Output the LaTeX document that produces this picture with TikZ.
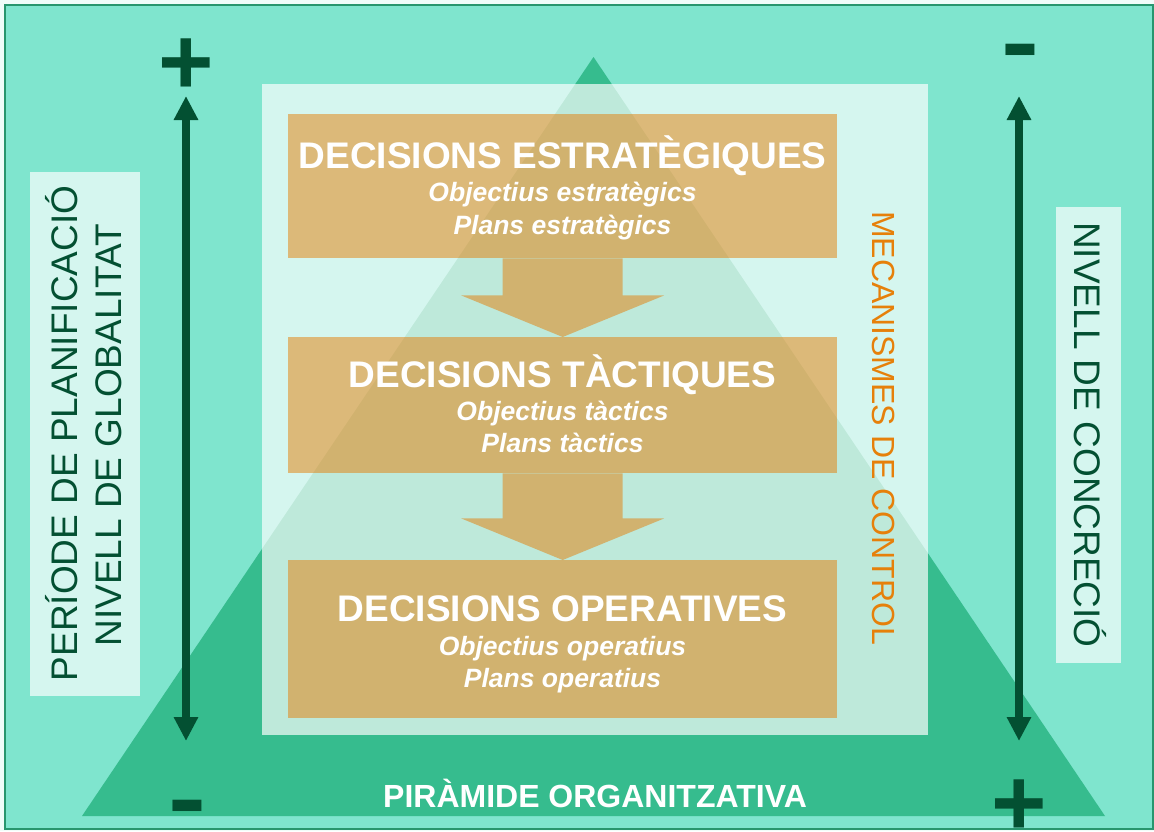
\documentclass[tikz,border=0pt]{standalone}
\usepackage{fontspec}
\setmainfont{Liberation Sans}
\usetikzlibrary{arrows.meta,calc}
\definecolor{bgc}{RGB}{127,229,206}
\definecolor{pyr}{RGB}{54,188,142}
\definecolor{dkg}{RGB}{3,80,50}
\definecolor{tanc}{RGB}{228,125,5}
\definecolor{orng}{RGB}{230,128,10}
\definecolor{framec}{RGB}{40,150,110}
\tikzset{
  panelbox/.style={fill=white, fill opacity=0.68, draw=none, inner sep=0pt, anchor=north west},
  decbox/.style={fill=tanc, fill opacity=0.5, draw=none, inner sep=0pt, anchor=north west, minimum width=549pt},
  blockarrow/.style={fill=tanc, fill opacity=0.5},
  title/.style={text=white, font=\bfseries\fontsize{37}{40}\selectfont, anchor=base, inner sep=0pt},
  sub/.style={text=white, font=\bfseries\itshape\fontsize{26.5}{30}\selectfont, anchor=base, inner sep=0pt},
  sidelbl/.style={text=dkg, font=\fontsize{37}{45}\selectfont, anchor=base, inner sep=0pt},
  ctrl/.style={text=orng, font=\fontsize{32}{36}\selectfont, anchor=base, inner sep=0pt},
  sign/.style={text=dkg, font=\bfseries\fontsize{95}{95}\selectfont, inner sep=0pt},
  varrow/.style={draw=dkg, line width=8pt, {Triangle[width=23pt,length=24pt]}-{Triangle[width=23pt,length=24pt]}}
}
\begin{document}
\begin{tikzpicture}[x=1pt,y=-1pt]
\useasboundingbox (0,0) rectangle (1154,831);
\fill[white!88!bgc] (0,0) rectangle (1154,831);
\draw[framec, line width=2pt, fill=bgc] (5,5) rectangle (1153,829);
% pyramid
\fill[pyr] (82,816) -- (593.5,57) -- (1105,816) -- cycle;
% translucent panel and side boxes
\node[panelbox, minimum width=666pt, minimum height=651pt] (panel) at (262,84) {};
\node[panelbox, minimum width=110pt, minimum height=524pt] (lbox) at (30,172) {};
\node[panelbox, minimum width=65pt, minimum height=456pt] (rbox) at (1056,207) {};
% decision boxes
\node[decbox, minimum height=144pt] (b1) at (288,114) {};
\node[decbox, minimum height=136pt] (b2) at (288,337) {};
\node[decbox, minimum height=158pt] (b3) at (288,560) {};
% block arrows
\fill[blockarrow] ($(b1.south)+(-60,0)$) -- ($(b1.south)+(60,0)$) -- ($(b1.south)+(60,37)$)
  -- ($(b1.south)+(101.5,37)$) -- (b2.north) -- ($(b1.south)+(-101.5,37)$) -- ($(b1.south)+(-60,37)$) -- cycle;
\fill[blockarrow] ($(b2.south)+(-60,0)$) -- ($(b2.south)+(60,0)$) -- ($(b2.south)+(60,45)$)
  -- ($(b2.south)+(101.5,45)$) -- (b3.north) -- ($(b2.south)+(-101.5,45)$) -- ($(b2.south)+(-60,45)$) -- cycle;
% texts in boxes
\node[title] (t1) at (562.5,168) {DECISIONS ESTRATÈGIQUES};
\node[sub] (s1a) at (562.5,201) {Objectius estratègics};
\node[sub] (s1b) at (562.5,234) {Plans estratègics};
\node[title] (t2) at (562.5,387) {DECISIONS TÀCTIQUES};
\node[sub] (s2a) at (562.5,420) {Objectius tàctics};
\node[sub] (s2b) at (562.5,452) {Plans tàctics};
\node[title] (t3) at (562.5,621) {DECISIONS OPERATIVES};
\node[sub] (s3a) at (562.5,655) {Objectius operatius};
\node[sub] (s3b) at (562.5,687) {Plans operatius};
% side labels
\node[sidelbl, rotate=90] (l1) at (77,433.5) {PERÍODE DE PLANIFICACIÓ};
\node[sidelbl, rotate=90] (l2) at (121,435.5) {NIVELL DE GLOBALITAT};
\node[sidelbl, rotate=-90] (r1) at (1074,435) {NIVELL DE CONCRECIÓ};
\node[ctrl, rotate=-90] (mc) at (872,428) {MECANISMES DE CONTROL};
\node[text=white, font=\bfseries\fontsize{32}{36}\selectfont, anchor=base, inner sep=0pt] (pir) at (595,807) {PIRÀMIDE ORGANITZATIVA};
% vertical arrows
\coordinate (lt) at (186,96);
\coordinate (lb) at (186,741);
\coordinate (rt) at (1019,96);
\coordinate (rb) at (1019,741);
\draw[varrow] (lt) -- (lb);
\draw[varrow] (rt) -- (rb);
% signs
\node[sign] (p1) at (186,66.5) {+};
\node[sign, xscale=1.2] (m1) at (1020,59) {-};
\node[sign, xscale=1.2] (m2) at (187,815) {-};
\node[sign] (p2) at (1019.5,808) {+};
\end{tikzpicture}
\end{document}
